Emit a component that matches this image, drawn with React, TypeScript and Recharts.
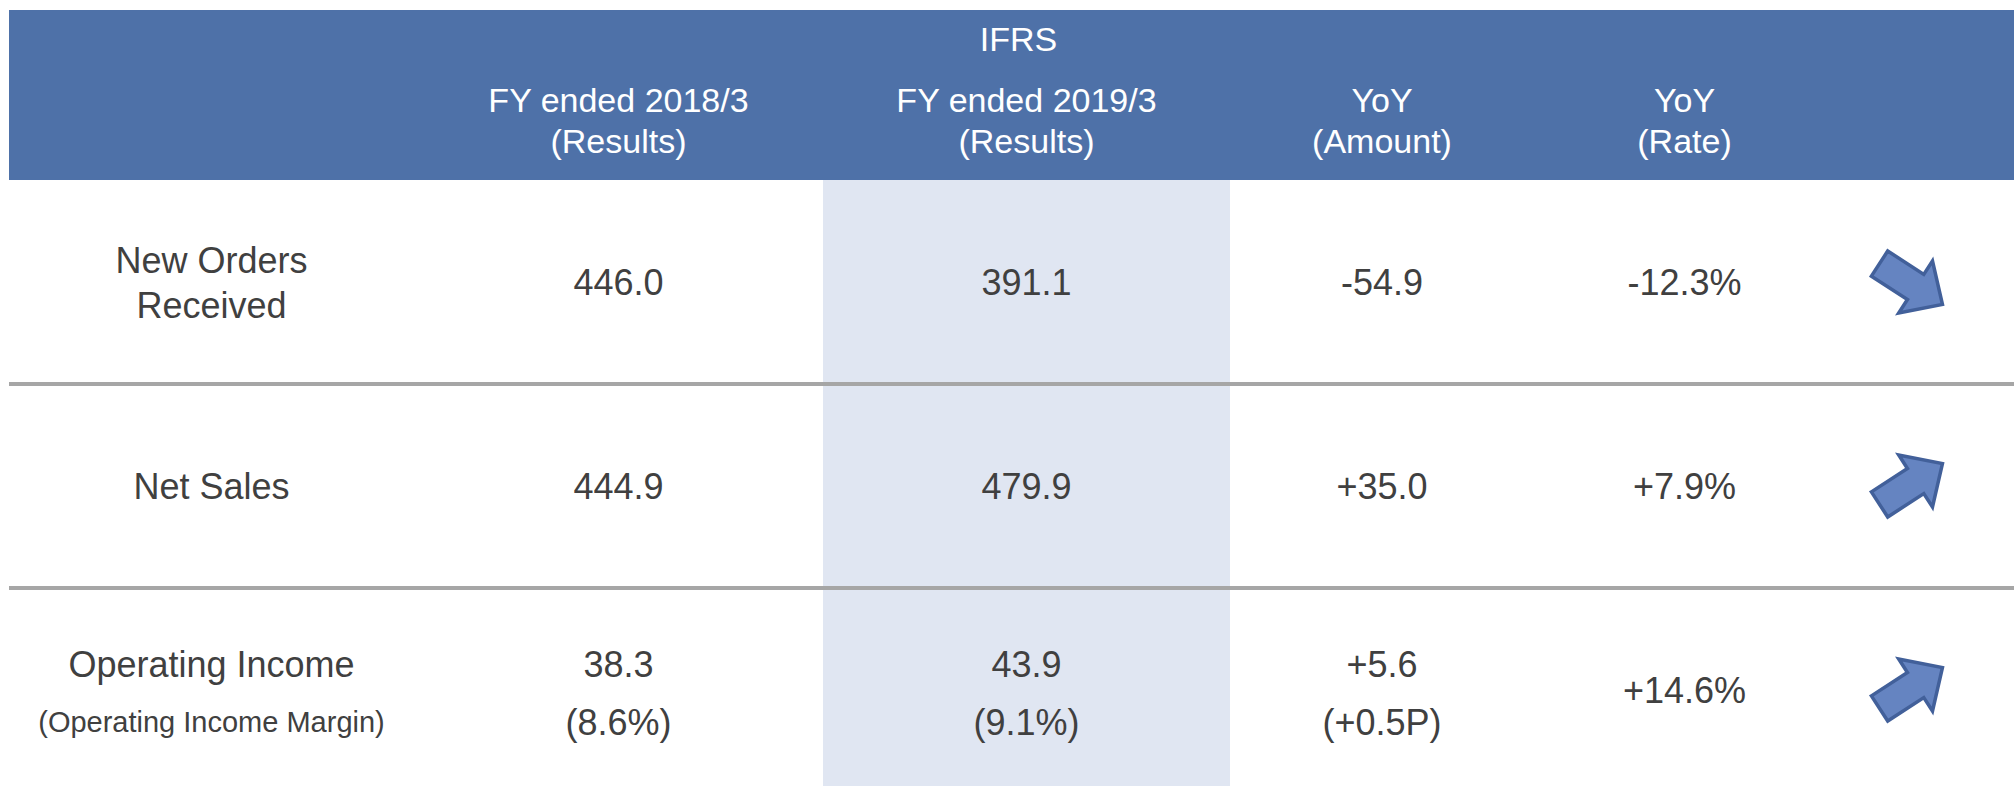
import { BarChart, Bar, XAxis, YAxis } from 'recharts';

// values (billion yen)
const rowLabels = [['New Orders', 'Received'], ['Net Sales'], ['Operating Income']];
const rowSubLabels = ['', '', '(Operating Income Margin)'];
const headerTop = ['', 'FY ended 2018/3', 'FY ended 2019/3', 'YoY', 'YoY', '', ''];
const headerBottom = ['', '(Results)', '(Results)', '(Amount)', '(Rate)', '', ''];
const fy2018 = [446.0, 444.9, 38.3];
const fy2019 = [391.1, 479.9, 43.9];
const yoyAmount = [-54.9, 35.0, 5.6];
const yoyRate = [-12.3, 7.9, 14.6];
const margin2018: (number | null)[] = [null, null, 8.6];
const margin2019: (number | null)[] = [null, null, 9.1];
const marginDiff: (number | null)[] = [null, null, 0.5];

// layout
const COL_KEYS = ['label', 'fy18', 'fy19', 'amount', 'rate', 'trend', 'pad'];
const COL_WIDTHS = [405, 409, 407, 304, 301, 144, 35];
const TOTAL_W = COL_WIDTHS.reduce((a, b) => a + b, 0);
const HEADER_H = 170;
const BODY_H = 612;

const FONT = '"Liberation Sans", Arial, sans-serif';
const BLUE = '#4E71A8';
const SHADE = '#E0E6F2';
const TEXT = '#404040';
const RULE = '#A6A6A6';

const signed = (v: number, d = 1) => (v > 0 ? '+' : '') + v.toFixed(d);

const makeRow = (row: string) => {
  const r: Record<string, string | number> = { row };
  COL_KEYS.forEach((k, i) => { r[k] = COL_WIDTHS[i]; });
  return r;
};
const headerData = [makeRow('header')];
const bodyData = rowLabels.map((_, i) => makeRow(`r${i}`));

function Arrow({ cx, cy, up }: { cx: number; cy: number; up: boolean }) {
  // block arrow pointing right, rotated up or down
  const d = 'M-37.5,-15 L5.5,-15 L5.5,-31 L37.5,0 L5.5,31 L5.5,15 L-37.5,15 Z';
  return (
    <path d={d} transform={`translate(${cx + 4},${cy + (up ? -2 : 2)}) rotate(${up ? -33 : 33})`}
      fill="#6584C1" stroke="#42609A" strokeWidth={3.5} strokeLinejoin="miter" />
  );
}

function cellLines(col: number, i: number): { text: string; size: number; dy: number }[] {
  const two = (a: string, b: string, small = false) => [
    { text: a, size: 36, dy: -26 },
    { text: b, size: small ? 29 : 36, dy: 32 },
  ];
  switch (col) {
    case 0:
      if (rowSubLabels[i]) return two(rowLabels[i][0], rowSubLabels[i], true);
      if (rowLabels[i].length === 2) return [
        { text: rowLabels[i][0], size: 36, dy: -22 },
        { text: rowLabels[i][1], size: 36, dy: 23 },
      ];
      return [{ text: rowLabels[i][0], size: 36, dy: 0 }];
    case 1:
      return margin2018[i] != null
        ? two(fy2018[i].toFixed(1), `(${margin2018[i]!.toFixed(1)}%)`)
        : [{ text: fy2018[i].toFixed(1), size: 36, dy: 0 }];
    case 2:
      return margin2019[i] != null
        ? two(fy2019[i].toFixed(1), `(${margin2019[i]!.toFixed(1)}%)`)
        : [{ text: fy2019[i].toFixed(1), size: 36, dy: 0 }];
    case 3:
      return marginDiff[i] != null
        ? two(signed(yoyAmount[i]), `(${signed(marginDiff[i]!)}P)`)
        : [{ text: signed(yoyAmount[i]), size: 36, dy: 0 }];
    case 4:
      return [{ text: signed(yoyRate[i]) + '%', size: 36, dy: 0 }];
    default:
      return [];
  }
}

const bodyShape = (col: number) => (props: any) => {
  const { x, y, width, height, index } = props;
  const cx = x + width / 2;
  const cy = y + height / 2;
  return (
    <g>
      <rect x={x} y={y} width={width + 0.5} height={height} fill={col === 2 ? SHADE : '#ffffff'} />
      {index > 0 && (
        <line x1={x} x2={x + width + 0.5} y1={y} y2={y} stroke={RULE} strokeWidth={4} />
      )}
      {cellLines(col, index).map((l, k) => (
        <text key={k} x={cx} y={cy + l.dy} textAnchor="middle" dominantBaseline="central"
          fontFamily={FONT} fontSize={l.size} fill={TEXT}>{l.text}</text>
      ))}
      {col === 5 && <Arrow cx={cx} cy={cy} up={yoyAmount[index] > 0} />}
    </g>
  );
};

const headerShape = (col: number) => (props: any) => {
  const { x, y, width, height } = props;
  const cx = x + width / 2;
  const cy = y + height / 2;
  const last = col === COL_KEYS.length - 1;
  return (
    <g>
      <rect x={x} y={y} width={width + 0.5} height={height} fill={BLUE} />
      {last && (
        <text x={x + width - TOTAL_W / 2 + 7} y={y + 29} textAnchor="middle" dominantBaseline="central"
          fontFamily={FONT} fontSize={34} fill="#ffffff">IFRS</text>
      )}
      {headerTop[col] && (
        <text x={cx} y={cy + 5} textAnchor="middle" dominantBaseline="central"
          fontFamily={FONT} fontSize={34} fill="#ffffff">{headerTop[col]}</text>
      )}
      {headerBottom[col] && (
        <text x={cx} y={cy + 46} textAnchor="middle" dominantBaseline="central"
          fontFamily={FONT} fontSize={34} fill="#ffffff">{headerBottom[col]}</text>
      )}
    </g>
  );
};

function Table({ data, height, shape }: { data: any[]; height: number; shape: (c: number) => any }) {
  return (
    <BarChart width={TOTAL_W} height={height} data={data} layout="vertical"
      margin={{ top: 0, right: 0, bottom: 0, left: 0 }} barCategoryGap={0} barGap={0}>
      <XAxis type="number" hide domain={[0, TOTAL_W]} />
      <YAxis type="category" dataKey="row" hide width={0} />
      {COL_KEYS.map((k, c) => (
        <Bar key={k} dataKey={k} stackId="t" isAnimationActive={false} shape={shape(c)} />
      ))}
    </BarChart>
  );
}

export default function App() {
  return (
    <div style={{ position: 'fixed', left: 0, top: 0, width: 2014, height: 786, overflow: 'hidden', background: '#fff' }}>
      <div style={{ position: 'absolute', left: 9, top: 10 }}>
        <Table data={headerData} height={HEADER_H} shape={headerShape} />
        <Table data={bodyData} height={BODY_H} shape={bodyShape} />
      </div>
    </div>
  );
}
